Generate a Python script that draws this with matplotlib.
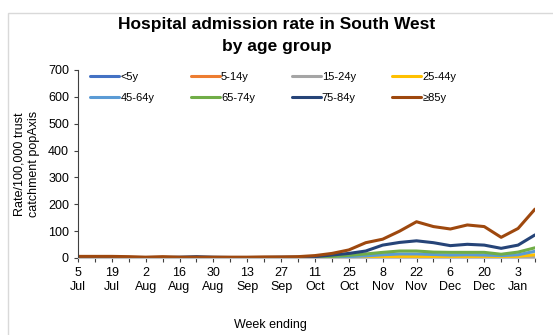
import numpy as np
import matplotlib.pyplot as plt
import pandas as pd
from matplotlib.patches import Rectangle

plt.rcParams['font.family'] = ['Liberation Sans', 'DejaVu Sans']

# Semanas (fin de semana) y series por grupo de edad
weeks = pd.date_range('2020-07-05', periods=28, freq='7D')
groups = ['<5y', '5-14y', '15-24y', '25-44y',
          '45-64y', '65-74y', '75-84y', '≥85y']
colors = ['#4472C4', '#ED7D31', '#A5A5A5', '#FFC000',
          '#5B9BD5', '#70AD47', '#264478', '#9E480E']

under5 = [1, 1, 1, 0, 0, 1, 1, 1, 0, 0, 0, 0, 0, 1,
          1, 1, 1, 2, 2, 2, 2, 2, 1, 2, 1, 1, 2, 3]
age5_14 = [0, 0, 0, 0, 0, 0, 0, 0, 0, 0, 0, 0, 0, 0,
           0, 0, 1, 1, 1, 1, 1, 1, 1, 1, 1, 1, 1, 2]
age15_24 = [0, 0, 0, 0, 0, 0, 0, 0, 0, 0, 0, 0, 1, 1,
            1, 1, 2, 2, 3, 3, 3, 2, 2, 2, 2, 2, 3, 5]
age25_44 = [0, 0, 0, 0, 0, 0, 0, 0, 0, 0, 0, 0, 1, 1,
            1, 2, 3, 4, 5, 6, 6, 5, 4, 5, 4, 4, 6, 12]
age45_64 = [1, 1, 1, 1, 1, 1, 1, 1, 1, 1, 1, 1, 1, 1,
            2, 3, 5, 8, 12, 15, 15, 13, 11, 12, 11, 9, 12, 25]
age65_74 = [1, 1, 1, 1, 1, 1, 1, 2, 1, 1, 1, 1, 1, 2,
            3, 5, 10, 15, 21, 26, 26, 22, 21, 21, 21, 14, 22, 38]
age75_84 = [3, 3, 3, 2, 2, 2, 3, 5, 3, 2, 2, 2, 3, 3,
            5, 11, 17, 26, 48, 58, 64, 57, 46, 51, 48, 36, 48, 86]
age85 = [6, 6, 6, 5, 3, 5, 3, 3, 3, 3, 3, 4, 4, 5,
         9, 17, 30, 57, 70, 100, 135, 117, 108, 123, 117, 77, 110, 182]

series = [under5, age5_14, age15_24, age25_44,
          age45_64, age65_74, age75_84, age85]

fig = plt.figure(figsize=(5.53, 3.35), dpi=100)
fig.patches.append(Rectangle((8 / 553, -0.1), 1.0, 1.06 - 13 / 335 + 0.04,
                             transform=fig.transFigure, fill=False,
                             edgecolor='#d9d9d9', linewidth=1))
ax = fig.add_axes([78 / 553, 1 - 258 / 335, (535 - 78) / 553, (258 - 70) / 335])

x = np.arange(len(weeks))
lineas = []
for nombre, valores, c in zip(groups, series, colors):
    l, = ax.plot(x, valores, color=c, linewidth=2.2, label=nombre,
                 solid_capstyle='round')
    lineas.append(l)

ax.set_xlim(0, len(weeks) - 1)
ax.set_ylim(0, 700)
ax.set_yticks(range(0, 701, 100))
ax.set_xticks(x)
etiquetas = [f'{d.day}\n{d.strftime("%b")}' if i % 2 == 0 else ''
             for i, d in enumerate(weeks)]
ax.set_xticklabels(etiquetas)
ax.tick_params(axis='both', labelsize=9, direction='out', length=3,
               color='#404040')
ax.spines['top'].set_visible(False)
ax.spines['right'].set_visible(False)
ax.spines['left'].set_color('#404040')
ax.spines['bottom'].set_color('#bfbfbf')

ax.set_ylabel('Rate/100,000 trust\ncatchment popAxis', fontsize=9,
              labelpad=6)
fig.text(270 / 553, 1 - 325 / 335, 'Week ending', fontsize=9,
         ha='center', va='center')
fig.text(0.5, 1 - 24 / 335, 'Hospital admission rate in South West',
         fontsize=12.5, fontweight='bold', ha='center', va='center')
fig.text(0.5, 1 - 46 / 335, 'by age group',
         fontsize=12.5, fontweight='bold', ha='center', va='center')

# Orden por filas en la leyenda (matplotlib llena por columnas)
orden = [0, 4, 1, 5, 2, 6, 3, 7]
ax.legend([lineas[i] for i in orden], [groups[i] for i in orden],
          ncol=4, loc='upper left', bbox_to_anchor=(0.005, 1.045),
          frameon=False, fontsize=8, handlelength=2.6, handletextpad=0.1,
          columnspacing=3.3, labelspacing=1.0)

fig.savefig('out.png', dpi=100)
